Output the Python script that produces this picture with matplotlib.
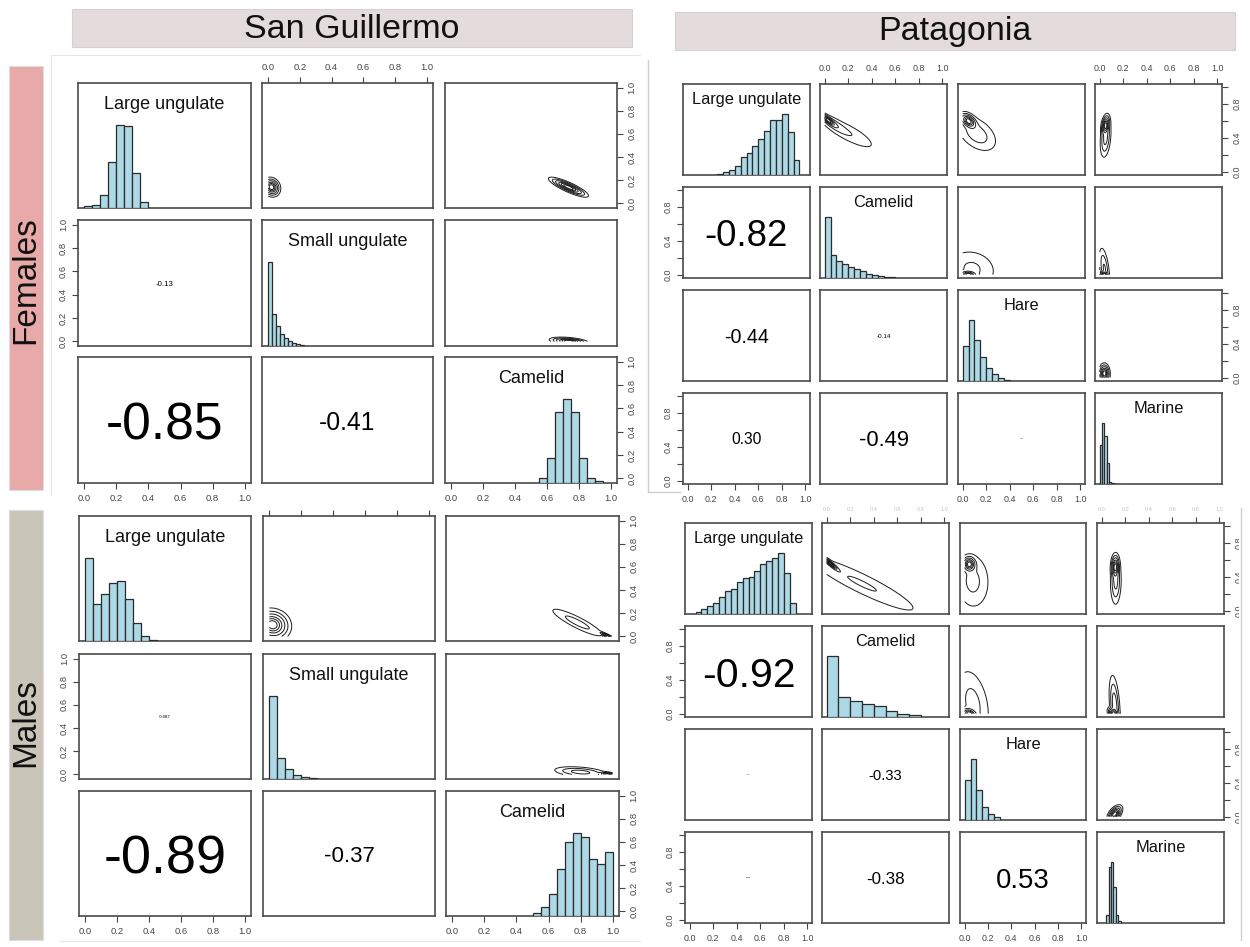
import numpy as np
import matplotlib
matplotlib.use("Agg")
import matplotlib.pyplot as plt
from matplotlib.patches import Rectangle

plt.rcParams['font.family'] = ['Liberation Sans', 'DejaVu Sans']

# ------------------------------------------------------------------ data
SG_VARS = ["Large ungulate", "Small ungulate", "Camelid"]
PAT_VARS = ["Large ungulate", "Camelid", "Hare", "Marine"]

# histograms: first break, bin width, bar heights relative to the tallest bar
SG_F_BIN_START = [0.0, 0.0, 0.55]
SG_F_BIN_WIDTH = [0.05, 0.025, 0.05]
SG_F_LARGE_UNG = [0.02, 0.036, 0.156, 0.552, 1.0, 0.988, 0.424, 0.076]
SG_F_SMALL_UNG = [1.0, 0.385, 0.238, 0.147, 0.091, 0.056, 0.032, 0.02, 0.012]
SG_F_CAMELID = [0.063, 0.298, 0.841, 1.0, 0.849, 0.302, 0.06, 0.024]

SG_M_BIN_START = [0.0, 0.0, 0.5]
SG_M_BIN_WIDTH = [0.05, 0.05, 0.05]
SG_M_LARGE_UNG = [1.0, 0.439, 0.559, 0.702, 0.726, 0.503, 0.211, 0.06, 0.012]
SG_M_SMALL_UNG = [1.0, 0.255, 0.12, 0.048, 0.028, 0.012]
SG_M_CAMELID = [0.04, 0.104, 0.263, 0.57, 0.894, 1.0, 0.949, 0.69, 0.622, 0.774]

PAT_F_BIN_START = [0.25, 0.0, 0.0, 0.0]
PAT_F_BIN_WIDTH = [0.05, 0.05, 0.05, 0.02]
PAT_F_LARGE_UNG = [0.02, 0.05, 0.08, 0.15, 0.29, 0.37, 0.48, 0.59, 0.72, 0.90,
                   0.90, 1.0, 0.71, 0.25]
PAT_F_CAMELID = [1.0, 0.374, 0.28, 0.231, 0.187, 0.143, 0.11, 0.071, 0.049,
                 0.027, 0.016, 0.011]
PAT_F_HARE = [0.582, 1.0, 0.681, 0.396, 0.214, 0.11, 0.044, 0.016]
PAT_F_MARINE = [0.645, 1.0, 0.783, 0.342, 0.039, 0.011]

PAT_M_BIN_START = [0.05, 0.0, 0.0, 0.04]
PAT_M_BIN_WIDTH = [0.05, 0.1, 0.05, 0.02]
PAT_M_LARGE_UNG = [0.033, 0.082, 0.131, 0.186, 0.279, 0.378, 0.411, 0.531, 0.597,
                   0.608, 0.712, 0.816, 0.87, 0.925, 1.0, 0.668, 0.175]
PAT_M_CAMELID = [1.0, 0.331, 0.259, 0.215, 0.188, 0.105, 0.05, 0.028]
PAT_M_HARE = [0.659, 1.0, 0.495, 0.209, 0.093, 0.049]
PAT_M_MARINE = [0.13, 0.93, 1.0, 0.6, 0.13, 0.04]

# correlations, lower triangle read row by row: (2,1), (3,1), (3,2), (4,1), ...
SG_F_COR = ["-0.13", "-0.85", "-0.41"]
SG_M_COR = ["-0.087", "-0.89", "-0.37"]
PAT_F_COR = ["-0.82", "-0.44", "-0.14", "0.30", "-0.49", "-0.025"]
PAT_M_COR = ["-0.92", "-0.041", "-0.33", "0.053", "-0.38", "0.53"]

# joint posterior density: (row, col, [(mean x, mean y, sd x, sd y, weight), ...])
SG_F_DENSITY = [
    (0, 1, [(0.02, 0.14, 0.021, 0.031, 1.0)]),
    (0, 2, [(0.735, 0.14, 0.045, 0.031, 1.0)]),
    (1, 2, [(0.74, 0.0, 0.045, 0.013, 1.0)]),
]
SG_M_DENSITY = [
    (0, 1, [(0.02, 0.10, 0.043, 0.052, 1.0)]),
    (0, 2, [(0.78, 0.12, 0.08, 0.06, 1.0), (0.97, 0.0, 0.02, 0.015, 0.5)]),
    (1, 2, [(0.80, 0.02, 0.07, 0.02, 1.0), (0.97, 0.0, 0.02, 0.008, 0.4)]),
]
PAT_F_DENSITY = [
    (0, 1, [(0.03, 0.61, 0.03, 0.035, 1.0), (0.08, 0.56, 0.06, 0.06, 0.6),
            (0.20, 0.46, 0.12, 0.10, 1.0)]),
    (0, 2, [(0.05, 0.60, 0.03, 0.04, 1.0), (0.12, 0.45, 0.08, 0.10, 1.0)]),
    (0, 3, [(0.05, 0.55, 0.015, 0.05, 1.0), (0.05, 0.40, 0.02, 0.10, 0.8)]),
    (1, 2, [(0.05, 0.0, 0.03, 0.02, 0.5), (0.08, 0.07, 0.10, 0.11, 1.0)]),
    (1, 3, [(0.04, 0.0, 0.015, 0.02, 0.5), (0.04, 0.07, 0.02, 0.11, 1.0)]),
    (2, 3, [(0.04, 0.05, 0.018, 0.045, 1.0)]),
]
PAT_M_DENSITY = [
    (0, 1, [(0.03, 0.56, 0.03, 0.035, 0.5), (0.30, 0.32, 0.25, 0.18, 2.0)]),
    (0, 2, [(0.04, 0.55, 0.025, 0.04, 1.0), (0.07, 0.35, 0.07, 0.16, 1.3)]),
    (0, 3, [(0.115, 0.52, 0.015, 0.06, 1.0), (0.12, 0.35, 0.02, 0.12, 0.8)]),
    (1, 2, [(0.04, 0.0, 0.03, 0.03, 0.5), (0.07, 0.12, 0.07, 0.20, 1.0)]),
    (1, 3, [(0.10, 0.0, 0.02, 0.03, 0.5), (0.11, 0.10, 0.02, 0.15, 1.0)]),
    (2, 3, [(0.11, 0.03, 0.025, 0.04, 1.0)]),
]

# contour levels as fractions of the peak density
LEVEL_FRACTIONS = [0.02, 0.08, 0.2, 0.4, 0.6, 0.8]

TICKS = [0.0, 0.2, 0.4, 0.6, 0.8, 1.0]
TICK_LABELS = ["0.0", "0.2", "0.4", "0.6", "0.8", "1.0"]
SPARSE_LABELS = ["0.0", "", "0.4", "", "0.8", ""]

# ------------------------------------------------------------------ layout (pixels)
W, H = 1250, 947
SG_F_COLS = [(78, 251), (262, 433), (445, 617)]
SG_F_ROWS = [(83, 208), (220, 346), (357, 483)]
SG_M_COLS = [(79, 251), (263, 435), (446, 619)]
SG_M_ROWS = [(516, 641), (654, 779), (791, 916)]
PAT_F_COLS = [(683, 810), (820, 947), (958, 1085), (1095, 1222)]
PAT_F_ROWS = [(84, 175), (187, 278), (290, 381), (393, 484)]
PAT_M_COLS = [(685, 812), (822, 949), (960, 1086), (1097, 1224)]
PAT_M_ROWS = [(523, 614), (626, 717), (729, 820), (832, 923)]

BOX_COLOR = "#4a4a4a"
TICK_COLOR = "#454545"
BAR_COLOR = "#ADD8E6"

fig = plt.figure(figsize=(W / 100, H / 100), dpi=100)
renderer = fig.canvas.get_renderer()

# background decorations in pixel coordinates
bg = fig.add_axes([0, 0, 1, 1], zorder=-5)
bg.set_xlim(0, W)
bg.set_ylim(H, 0)
bg.axis("off")

bg.add_patch(Rectangle((72, 9), 560, 38, facecolor="#e3dbdc", edgecolor="#d2d2d2", lw=0.8))
bg.add_patch(Rectangle((675, 12), 560, 38, facecolor="#e3dbdc", edgecolor="#d2d2d2", lw=0.8))
bg.text(352, 29, "San Guillermo", ha="center", va="center", fontsize=24.5, color="#111111")
bg.text(955, 31, "Patagonia", ha="center", va="center", fontsize=24.5, color="#111111")

bg.add_patch(Rectangle((9, 66), 34, 424, facecolor="#e8a9a9", edgecolor="#dddddd", lw=0.8))
bg.add_patch(Rectangle((9, 510), 34, 430, facecolor="#c9c5b8", edgecolor="#dddddd", lw=0.8))
bg.text(26, 280, "Females", rotation=90, ha="center", va="center", fontsize=24, color="#111111")
bg.text(26, 722, "Males", rotation=90, ha="center", va="center", fontsize=24, color="#111111")

# faint frames of the four panels
bg.plot([51, 640], [55, 55], color="#e6e6e6", lw=0.8)
bg.plot([51, 51], [55, 495], color="#e6e6e6", lw=0.8)
bg.plot([648, 648], [60, 492], color="#cfcfcf", lw=1.0)
bg.plot([648, 680], [492, 492], color="#cfcfcf", lw=1.0)
bg.plot([60, 640], [941, 941], color="#e6e6e6", lw=0.8)


def make_panel(xs, ys):
    x0, x1 = xs
    y0, y1 = ys
    ax = fig.add_axes([x0 / W, 1 - y1 / H, (x1 - x0) / W, (y1 - y0) / H])
    ax.set_xlim(-0.04, 1.04)
    ax.set_ylim(-0.04, 1.04)
    for s in ax.spines.values():
        s.set_color(BOX_COLOR)
        s.set_linewidth(1.2)
    ax.set_xticks([])
    ax.set_yticks([])
    return ax


def x_axis(ax, side, labels, fs, color=TICK_COLOR):
    ax.set_xticks(TICKS)
    ax.set_xticklabels(labels)
    ax.xaxis.set_ticks_position(side)
    ax.tick_params(axis="x", direction="out", length=4.3, width=0.8,
                   color=TICK_COLOR, labelcolor=color, labelsize=fs, pad=3.5)


def y_axis(ax, side, labels, fs):
    ax.set_yticks(TICKS)
    ax.set_yticklabels(labels)
    ax.yaxis.set_ticks_position(side)
    ax.tick_params(axis="y", direction="out", length=4.3, width=0.8,
                   color=TICK_COLOR, labelcolor=TICK_COLOR, labelsize=fs,
                   pad=3.0, labelrotation=90)
    for t in ax.get_yticklabels():
        t.set_va("center")


def density_grid(comps, r):
    g = np.linspace(0.0, 1.0, 401)
    gx, gy = np.meshgrid(g, g)
    z = np.zeros_like(gx)
    for mx, my, sx, sy, w in comps:
        dx = (gx - mx) / sx
        dy = (gy - my) / sy
        q = (dx ** 2 - 2 * r * dx * dy + dy ** 2) / (1 - r ** 2)
        z += w / (sx * sy * np.sqrt(1 - r ** 2)) * np.exp(-0.5 * q)
    return gx, gy, z


def draw_matrix(cols, rows, names, starts, widths, heights, cors, density,
                name_fs, tick_fs, sparse_y, top_style):
    n = len(names)
    lower = [(i, j) for i in range(n) for j in range(i)]
    cor_of = {}
    for (i, j), lab in zip(lower, cors):
        cor_of[(i, j)] = lab
        cor_of[(j, i)] = lab
    dens_of = {(i, j): comps for i, j, comps in density}
    ylabels = SPARSE_LABELS if sparse_y else TICK_LABELS

    for i in range(n):
        for j in range(n):
            ax = make_panel(cols[j], rows[i])
            if i == j:
                hax = ax.inset_axes([0, 0, 1, 1])
                hax.set_xlim(-0.04, 1.04)
                hax.set_ylim(0, 1.5)
                hax.axis("off")
                hax.patch.set_alpha(0)
                h = heights[i]
                edges = starts[i] + widths[i] * np.arange(len(h))
                hax.bar(edges, h, width=widths[i], align="edge", color=BAR_COLOR,
                        edgecolor="#2b2b2b", linewidth=0.9)
                ax.text(0.5, 0.83, names[i], transform=ax.transAxes, ha="center",
                        va="center", fontsize=name_fs, color="#111111")
            elif i < j:
                r = float(cor_of[(i, j)])
                gx, gy, z = density_grid(dens_of[(i, j)], r)
                levels = z.max() * np.array(LEVEL_FRACTIONS)
                ax.contour(gx, gy, z, levels=levels, colors="#1c1c1c", linewidths=0.7)
            else:
                lab = cor_of[(i, j)]
                t = ax.text(0.5, 0.5, lab, transform=ax.transAxes, ha="center",
                            va="center_baseline", fontsize=10, color="black")
                wpx = t.get_window_extent(renderer=renderer).width
                target = 0.8 * abs(float(lab)) * (cols[j][1] - cols[j][0])
                t.set_fontsize(max(10 * target / wpx, 0.5))

            if i == 0 and j % 2 == 1:
                if top_style == "labels":
                    x_axis(ax, "top", TICK_LABELS, tick_fs)
                elif top_style == "faint":
                    x_axis(ax, "top", TICK_LABELS, 4.0, color="#c4c4c4")
                else:
                    x_axis(ax, "top", [""] * 6, tick_fs)
            if i == n - 1 and j % 2 == 0:
                x_axis(ax, "bottom", TICK_LABELS, tick_fs)
            if j == 0 and i % 2 == 1:
                y_axis(ax, "left", ylabels, tick_fs)
            if j == n - 1 and i % 2 == 0:
                y_axis(ax, "right", ylabels, tick_fs)


draw_matrix(SG_F_COLS, SG_F_ROWS, SG_VARS, SG_F_BIN_START, SG_F_BIN_WIDTH,
            [SG_F_LARGE_UNG, SG_F_SMALL_UNG, SG_F_CAMELID], SG_F_COR, SG_F_DENSITY,
            13, 6.8, False, "labels")
draw_matrix(SG_M_COLS, SG_M_ROWS, SG_VARS, SG_M_BIN_START, SG_M_BIN_WIDTH,
            [SG_M_LARGE_UNG, SG_M_SMALL_UNG, SG_M_CAMELID], SG_M_COR, SG_M_DENSITY,
            13, 6.8, False, "ticks")
draw_matrix(PAT_F_COLS, PAT_F_ROWS, PAT_VARS, PAT_F_BIN_START, PAT_F_BIN_WIDTH,
            [PAT_F_LARGE_UNG, PAT_F_CAMELID, PAT_F_HARE, PAT_F_MARINE], PAT_F_COR,
            PAT_F_DENSITY, 11.8, 6.4, True, "labels")
draw_matrix(PAT_M_COLS, PAT_M_ROWS, PAT_VARS, PAT_M_BIN_START, PAT_M_BIN_WIDTH,
            [PAT_M_LARGE_UNG, PAT_M_CAMELID, PAT_M_HARE, PAT_M_MARINE], PAT_M_COR,
            PAT_M_DENSITY, 11.8, 6.4, True, "faint")

# right edge of the Patagonia males block
fg = fig.add_axes([0, 0, 1, 1], zorder=20)
fg.set_xlim(0, W)
fg.set_ylim(H, 0)
fg.axis("off")
fg.patch.set_alpha(0)
fg.add_patch(Rectangle((1239, 505), 13, 445, facecolor="white", edgecolor="none"))
fg.plot([1240.5, 1240.5], [508, 940], color="#d0d0d0", lw=1.0)

fig.savefig("out.png", dpi=100, facecolor="white")
